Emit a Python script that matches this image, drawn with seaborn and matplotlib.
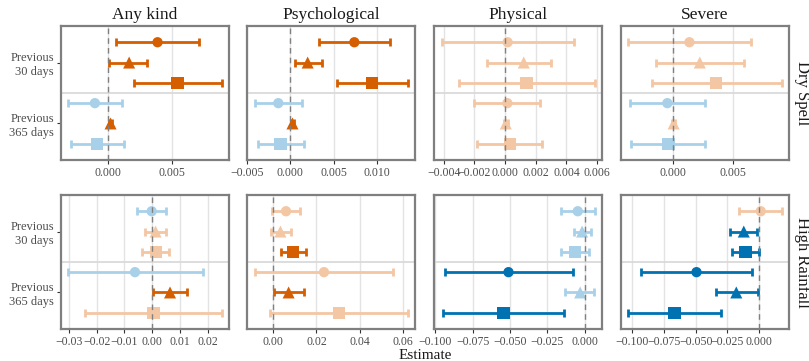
import numpy as np
import pandas as pd
import matplotlib
matplotlib.use("Agg")
import matplotlib.pyplot as plt
import seaborn as sns
from matplotlib.ticker import FixedLocator, FormatStrFormatter

# ---------------- data ----------------
outcomes = ["Any kind", "Psychological", "Physical", "Severe"]
exposures = ["Dry Spell", "High Rainfall"]
windows = ["Previous\n30 days", "Previous\n365 days"]
measures = ["circle", "triangle", "square"]  # order within each window

# rows: 30d circle, 30d triangle, 30d square, 365d circle, 365d triangle, 365d square
dry_any_est = [0.00389, 0.00166, 0.00547, -0.00103, 0.00020, -0.00087]
dry_any_lo = [0.00066, 0.00010, 0.00208, -0.00311, 0.00010, -0.00290]
dry_any_hi = [0.00713, 0.00310, 0.00893, 0.00107, 0.00030, 0.00123]

dry_psy_est = [0.00741, 0.00201, 0.00946, -0.00139, 0.00025, -0.00111]
dry_psy_lo = [0.00332, 0.00051, 0.00537, -0.00409, 0.00010, -0.00377]
dry_psy_hi = [0.01154, 0.00363, 0.01366, 0.00135, 0.00040, 0.00159]

dry_phy_est = [0.00017, 0.00122, 0.00141, 0.00015, 0.00005, 0.00033]
dry_phy_lo = [-0.00410, -0.00115, -0.00300, -0.00200, -0.00010, -0.00182]
dry_phy_hi = [0.00450, 0.00298, 0.00584, 0.00230, 0.00020, 0.00243]

dry_sev_est = [0.00136, 0.00222, 0.00358, -0.00047, 0.00005, -0.00039]
dry_sev_lo = [-0.00372, -0.00142, -0.00178, -0.00356, -0.00010, -0.00347]
dry_sev_hi = [0.00650, 0.00586, 0.00900, 0.00264, 0.00020, 0.00264]

rain_any_est = [-0.0002, 0.0012, 0.0013, -0.0062, 0.0064, 0.0005]
rain_any_lo = [-0.0053, -0.0027, -0.0035, -0.0302, 0.0004, -0.0242]
rain_any_hi = [0.0048, 0.0049, 0.0061, 0.0182, 0.0124, 0.0250]

rain_psy_est = [0.0059, 0.0033, 0.0091, 0.0235, 0.0071, 0.0305]
rain_psy_lo = [-0.0006, -0.0012, 0.0034, -0.0086, 0.0002, -0.0017]
rain_psy_hi = [0.0124, 0.0082, 0.0150, 0.0554, 0.0141, 0.0624]

rain_phy_est = [-0.0047, -0.0018, -0.0066, -0.0510, -0.0031, -0.0543]
rain_phy_lo = [-0.0162, -0.0073, -0.0162, -0.0937, -0.0129, -0.0951]
rain_phy_hi = [0.0066, 0.0040, 0.0031, -0.0082, 0.0064, -0.0138]

rain_sev_est = [0.0013, -0.0121, -0.0106, -0.0494, -0.0180, -0.0669]
rain_sev_lo = [-0.0156, -0.0227, -0.0214, -0.0929, -0.0344, -0.1037]
rain_sev_hi = [0.0180, -0.0013, -0.0002, -0.0058, -0.0008, -0.0302]

# x tick values per panel (labels formatted from them)
ticks_dry_any = [0.0, 0.005]
ticks_dry_psy = [-0.005, 0.0, 0.005, 0.010]
ticks_dry_phy = [-0.004, -0.002, 0.0, 0.002, 0.004, 0.006]
ticks_dry_sev = [0.0, 0.005]
ticks_rain_any = [-0.03, -0.02, -0.01, 0.0, 0.01, 0.02]
ticks_rain_psy = [0.0, 0.02, 0.04, 0.06]
ticks_rain_phy = [-0.100, -0.075, -0.050, -0.025, 0.0]
ticks_rain_sev = [-0.100, -0.075, -0.050, -0.025, 0.0]

panels = {
    ("Dry Spell", "Any kind"): (dry_any_est, dry_any_lo, dry_any_hi, ticks_dry_any, "%.3f"),
    ("Dry Spell", "Psychological"): (dry_psy_est, dry_psy_lo, dry_psy_hi, ticks_dry_psy, "%.3f"),
    ("Dry Spell", "Physical"): (dry_phy_est, dry_phy_lo, dry_phy_hi, ticks_dry_phy, "%.3f"),
    ("Dry Spell", "Severe"): (dry_sev_est, dry_sev_lo, dry_sev_hi, ticks_dry_sev, "%.3f"),
    ("High Rainfall", "Any kind"): (rain_any_est, rain_any_lo, rain_any_hi, ticks_rain_any, "%.2f"),
    ("High Rainfall", "Psychological"): (rain_psy_est, rain_psy_lo, rain_psy_hi, ticks_rain_psy, "%.2f"),
    ("High Rainfall", "Physical"): (rain_phy_est, rain_phy_lo, rain_phy_hi, ticks_rain_phy, "%.3f"),
    ("High Rainfall", "Severe"): (rain_sev_est, rain_sev_lo, rain_sev_hi, ticks_rain_sev, "%.3f"),
}

# ---------------- style ----------------
sns.set_theme(style="white")
plt.rcParams["font.family"] = ["Liberation Serif", "DejaVu Serif"]
plt.rcParams["axes.unicode_minus"] = True

DARK_OR = "#D55E00"
LIGHT_OR = "#F3C6A4"
DARK_BL = "#0072B2"
LIGHT_BL = "#A8D0E8"
marker_map = {"circle": "o", "triangle": "^", "square": "s"}
size_map = {"circle": 55, "triangle": 75, "square": 80}

xlims = {
    ("Dry Spell", "Any kind"): (-0.00369, 0.0095),
    ("Dry Spell", "Psychological"): (-0.00501, 0.01443),
    ("Dry Spell", "Physical"): (-0.00463, 0.00632),
    ("Dry Spell", "Severe"): (-0.00431, 0.00961),
    ("High Rainfall", "Any kind"): (-0.0328, 0.0276),
    ("High Rainfall", "Psychological"): (-0.0122, 0.0657),
    ("High Rainfall", "Physical"): (-0.1008, 0.0115),
    ("High Rainfall", "Severe"): (-0.109, 0.0236),
}

W, H = 809, 361
fig = plt.figure(figsize=(W / 100, H / 100), dpi=100)
col_left = [61, 247, 434, 621]
row_top = [26, 195]
pw, ph = 168, 134

for r, expo in enumerate(exposures):
    for c, outc in enumerate(outcomes):
        left = col_left[c] / W
        bottom = (H - row_top[r] - ph) / H
        ax = fig.add_axes([left, bottom, pw / W, ph / H])
        est, lo, hi, xt, fmt = panels[(expo, outc)]
        df = pd.DataFrame({
            "est": est, "lo": lo, "hi": hi,
            "y": np.arange(1, 7),
            "measure": measures * 2,
        })
        cols = []
        for e, l, h in zip(df.est, df.lo, df.hi):
            sig = (l > 0) or (h < 0)
            if e >= 0:
                cols.append(DARK_OR if sig else LIGHT_OR)
            else:
                cols.append(DARK_BL if sig else LIGHT_BL)
        df["color"] = cols

        ax.axhline(3.5, color="#DADADA", lw=1.3, zorder=1)
        for _, row in df.iterrows():
            ax.errorbar(row.est, row.y, xerr=[[row.est - row.lo], [row.hi - row.est]],
                        fmt="none", ecolor=row.color, elinewidth=2.0,
                        capsize=3.2, capthick=2.0, zorder=3)
        for m in measures:
            sub = df[df.measure == m]
            sns.scatterplot(data=sub, x="est", y="y", ax=ax, marker=marker_map[m],
                            s=size_map[m], c=sub["color"].tolist(),
                            edgecolor="none", linewidth=0, zorder=4, legend=False)
        ax.axvline(0, color="#808080", lw=1.0, ls=(0, (4, 3)), zorder=5)

        ax.set_xlim(*xlims[(expo, outc)])
        ax.set_ylim(6.8, 0.2)
        ax.xaxis.set_major_locator(FixedLocator(xt))
        ax.xaxis.set_major_formatter(FormatStrFormatter(fmt))
        ax.set_xticks(xt)
        ax.set_xticklabels([(fmt % v).replace("-", "\u2212") for v in xt])
        ax.set_xlim(*xlims[(expo, outc)])
        ax.grid(axis="x", color="#E3E3E3", lw=1.0, zorder=0)
        ax.grid(axis="y", visible=False)
        ax.set_axisbelow(True)
        ax.set_yticks([2, 5])
        if c == 0:
            ax.set_yticklabels(windows, ha="right", multialignment="right")
        else:
            ax.set_yticklabels([])
        ax.tick_params(axis="x", direction="out", length=3, width=0.8, bottom=True,
                       color="#333333", labelsize=8.5, labelcolor="#4D4D4D", pad=2)
        ax.tick_params(axis="y", direction="out", length=3 if c == 0 else 0,
                       width=0.8, left=(c == 0), color="#333333", labelsize=9,
                       labelcolor="#4D4D4D", pad=2)
        ax.set_xlabel("")
        ax.set_ylabel("")
        for sp in ax.spines.values():
            sp.set_color("#7F7F7F")
            sp.set_linewidth(1.6)
        if r == 0:
            ax.set_title(outc, fontsize=12.5, color="#1A1A1A", pad=5)
        if c == 3:
            ax.text((col_left[c] + pw + 5) / W, bottom + ph / H / 2, expo,
                    transform=fig.transFigure, rotation=270,
                    va="center", ha="left", fontsize=12, color="#1A1A1A")

fig.text(425 / W, 1 - 359 / H, "Estimate", ha="center", va="baseline",
         fontsize=11, color="#1A1A1A")

fig.savefig("out.png", dpi=100)
